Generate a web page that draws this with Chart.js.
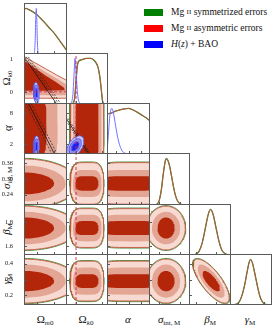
<!DOCTYPE html>
<html lang="en">
<head>
<meta charset="UTF-8">
<title>Mg II corner plot</title>
<script src="https://cdn.jsdelivr.net/npm/chart.js"></script>
<style>
  body { margin: 0; background: #fff; }
  #wrap { position: relative; width: 274px; height: 332px; overflow: hidden; background: #fff;
          font-family: 'Liberation Serif', 'DejaVu Serif', serif; color: #111; }
  #wrap canvas { position: absolute; }
  .xt, .yt { position: absolute; font-size: 11px; white-space: nowrap; line-height: 1; }
  .xt { transform: translateX(-50%); top: 314px; }
  .yt { left: 7px; transform: translate(-50%, -50%) rotate(-90deg); }
  .xt sub, .yt sub { font-size: 7px; vertical-align: -2px; }
  .lg { position: absolute; left: 144px; height: 8px; display: flex; align-items: center; font-size: 9.5px; white-space: nowrap; }
  .lg .box { width: 19px; height: 7px; margin-right: 8px; }
  .sc { font-size: 7px; }
</style>
</head>
<body>
<div id="wrap">
  <div class="lg" style="top:8px"><div class="box" style="background:#008000"></div>Mg&nbsp;<span class="sc">II</span>&nbsp;symmetrized errors</div>
  <div class="lg" style="top:24px"><div class="box" style="background:#ff0000"></div>Mg&nbsp;<span class="sc">II</span>&nbsp;asymmetric errors</div>
  <div class="lg" style="top:40px"><div class="box" style="background:#0000ff"></div><i>H</i>(<i>z</i>)&nbsp;+&nbsp;BAO</div>

  <div class="xt" style="left:45px">Ω<sub><i>m</i>0</sub></div>
  <div class="xt" style="left:86px">Ω<sub><i>k</i>0</sub></div>
  <div class="xt" style="left:128px"><i>α</i></div>
  <div class="xt" style="left:169px"><i>σ</i><sub>int,&thinsp;M</sub></div>
  <div class="xt" style="left:210px"><i>β</i><sub>M</sub></div>
  <div class="xt" style="left:250px"><i>γ</i><sub>M</sub></div>

  <div class="yt" style="top:78px">Ω<sub><i>k</i>0</sub></div>
  <div class="yt" style="top:128px"><i>α</i></div>
  <div class="yt" style="top:178px"><i>σ</i><sub>int,&thinsp;M</sub></div>
  <div class="yt" style="top:229px"><i>β</i><sub>M</sub></div>
  <div class="yt" style="top:279px"><i>γ</i><sub>M</sub></div>
</div>

<script>
// parameter order: Ω_m0, Ω_k0, α, σ_int,M, β_M, γ_M
const axisMin = [0, -0.38, 0, 0.2, 1.53, 0.14];
const axisMax = [1.0, 1.21, 10, 0.4, 1.95, 0.46];
const xTicks = [[0.3, 0.7], [0, 1], [2, 5, 8], [0.25, 0.35], [1.6, 1.8], [0.2, 0.4]];
const xTickLabels = [['0.3', '0.7'], ['0', '1'], ['2', '5', '8'], ['0.25', '0.35'], ['1.6', '1.8'], ['0.2', '0.4']];
const yTicks = [[], [0, 1], [2, 5, 8], [0.24, 0.30, 0.36], [1.6, 1.8], [0.2, 0.3, 0.4]];
const yTickLabels = [[], ['0', '1'], ['2', '5', '8'], ['0.24', '0.30', '0.36'], ['1.6', '1.8'], ['0.2', '0.3', '0.4']];

// 1D marginals, Mg II asymmetric errors [value, density]
const mgOmm1d = [[0, 0.98], [0.05, 1.0], [0.1, 0.98], [0.2, 0.93], [0.3, 0.86], [0.4, 0.77], [0.5, 0.67], [0.6, 0.56], [0.7, 0.46], [0.8, 0.33], [0.9, 0.2], [1.0, 0.07]];
const mgOmk1d = [[-0.14, 0], [-0.06, 0.1], [0.0, 0.5], [0.04, 0.8], [0.08, 0.92], [0.2, 0.97], [0.4, 1.0], [0.55, 1.0], [0.7, 0.95], [0.83, 0.81], [0.9, 0.6], [0.95, 0.35], [1.0, 0.08], [1.04, 0]];
const mgAlpha1d = [[0, 0.88], [1, 0.9], [2, 0.94], [3, 0.97], [4, 0.99], [5, 1.0], [6, 0.97], [7, 0.92], [8, 0.86], [9, 0.8], [10, 0.73]];
const mgSig1d = [[0.22, 0], [0.24, 0.02], [0.25, 0.1], [0.26, 0.32], [0.27, 0.68], [0.28, 0.96], [0.285, 1.0], [0.29, 0.98], [0.30, 0.85], [0.31, 0.62], [0.32, 0.38], [0.33, 0.19], [0.34, 0.08], [0.35, 0.03], [0.36, 0.01], [0.38, 0]];
const mgBeta1d = [[1.55, 0], [1.6, 0.02], [1.63, 0.08], [1.66, 0.25], [1.69, 0.55], [1.72, 0.87], [1.745, 1.0], [1.77, 0.9], [1.80, 0.6], [1.83, 0.3], [1.86, 0.1], [1.9, 0.02], [1.95, 0]];
const mgGam1d = [[0.16, 0], [0.19, 0.02], [0.21, 0.07], [0.23, 0.2], [0.25, 0.42], [0.27, 0.72], [0.285, 0.93], [0.297, 1.0], [0.31, 0.93], [0.33, 0.68], [0.35, 0.4], [0.37, 0.17], [0.39, 0.06], [0.41, 0.015], [0.44, 0]];
const mgMarg = [mgOmm1d, mgOmk1d, mgAlpha1d, mgSig1d, mgBeta1d, mgGam1d];

// 1D marginals, H(z) + BAO
const baoOmm1d = [[0.2, 0], [0.24, 0.03], [0.26, 0.3], [0.272, 0.75], [0.285, 1.0], [0.298, 0.75], [0.31, 0.3], [0.33, 0.03], [0.37, 0]];
const baoOmk1d = [[-0.25, 0], [-0.18, 0.03], [-0.12, 0.2], [-0.08, 0.6], [-0.04, 1.0], [0.0, 0.75], [0.04, 0.35], [0.08, 0.12], [0.13, 0.03], [0.2, 0]];
const baoAlpha1d = [[0, 0.05], [0.3, 0.4], [0.6, 0.78], [0.9, 0.97], [1.15, 1.0], [1.5, 0.9], [2.0, 0.62], [2.5, 0.36], [3.0, 0.18], [3.6, 0.06], [4.5, 0.01], [5.5, 0]];
const baoMarg = [baoOmm1d, baoOmk1d, baoAlpha1d];

// 2D Mg II contour extents, levels 68 / 95 / 99.7 %
const mgCenter = [0, 0, 0, 0.283, 1.752, 0.29];
const mgHalfEll = [[0.70, 0.97, 1.25], null, null, [0.042, 0.069, 0.094], [0.087, 0.134, 0.18], [0.064, 0.104, 0.138]];
const mgHalfBand = [[0.52, 0.78, 1.1], null, null, [0.028, 0.052, 0.08], [0.058, 0.11, 0.16], [0.043, 0.085, 0.125]];
const omkLo = [-0.03, -0.12, -0.22];
const omkHi = [0.85, 0.97, 1.05];
const alphaLo = [-2, -3, -4];
const alphaHi = [13, 15, 17];
const mgFlatLo = [null, omkLo, alphaLo, null, null, null];
const mgFlatHi = [null, omkHi, alphaHi, null, null, null];
const rhoBetaGam = -0.75;
// extra reach of the symmetrized-error outer contour
const symPad = [0.015, 0.012, 0.1, 0.0025, 0.005, 0.004];

// Ω_m0 – Ω_k0 panel, Mg II regions [Ω_m0, Ω_k0]
const mgOmmOmkLight = [[-0.05, 1.1], [0, 1.1], [0.25, 0.91], [0.5, 0.72], [0.75, 0.53], [1.0, 0.35], [1.05, 0.31], [1.05, -0.2], [0.5, -0.2], [0, -0.2], [-0.05, -0.2]];
const mgOmmOmkMid = [[-0.05, 1.04], [0, 1.04], [0.25, 0.83], [0.5, 0.62], [0.75, 0.42], [1.0, 0.22], [1.05, 0.19], [1.05, -0.11], [0, -0.11], [-0.05, -0.11]];
const mgOmmOmkDark = [[-0.05, 0.97], [0, 0.97], [0.25, 0.74], [0.5, 0.51], [0.75, 0.3], [0.93, 0.13], [0.95, 0.05], [0.5, 0.03], [0, 0.03], [-0.05, 0.03]];

// H(z) + BAO 2D contours
const baoCenter = [0.287, -0.03, 1.5];
const baoHalf = [[0.03, 0.05, 0.069], [0.145, 0.237, 0.327], [0.9, 1.5, 2.06]];
const baoRho = [[1, -0.2, 0.1], [-0.2, 1, 0.5], [0.1, 0.5, 1]];

// hatched boundary lines
const edgeOmmOmk = [[[0, 1.09], [0.76, -0.38]], [[0.05, 1.09], [0.81, -0.38]], [[0.1, 1.09], [0.86, -0.38]]];
const edgeOmmAlpha = [[[0.1, 10], [0.71, 0]], [[0.04, 10], [0.65, 0]], [[0.16, 10], [0.77, 0]]];
const edgeOmkAlpha = [[[-0.38, 7.08], [0.49, 0]], [[-0.38, 6.6], [0.43, 0]], [[-0.38, 7.6], [0.55, 0]]];

const colX = [24, 66, 107, 149, 189, 230, 271];
const rowY = [3, 53, 103, 153, 204, 254, 304];

const mgFill = ['#b3260a', '#e3a594', '#f7dbd2'];
const mgLine = '#c2553c';
const symLine = '#2c8a2c';
const baoFill = ['#1e1ef0', '#8d8df0', '#cacaf5'];
const baoLine = '#5a5aef';

Chart.defaults.font.family = "'Liberation Serif', 'DejaVu Serif', serif";

function pts(arr) { return arr.map(p => ({ x: p[0], y: p[1] })); }

function shape(ex, ey, nx, ny, rho) {
  const cx = (ex[0] + ex[1]) / 2, ax = (ex[1] - ex[0]) / 2;
  const cy = (ey[0] + ey[1]) / 2, ay = (ey[1] - ey[0]) / 2;
  const out = [];
  for (let i = 0; i <= 96; i++) {
    const t = Math.PI * 2 * i / 96, c = Math.cos(t), s = Math.sin(t);
    let x, y;
    if (rho) {
      x = cx + ax * c;
      y = cy + ay * (rho * c + Math.sqrt(1 - rho * rho) * s);
    } else {
      x = cx + ax * Math.sign(c) * Math.pow(Math.abs(c), 2 / nx);
      y = cy + ay * Math.sign(s) * Math.pow(Math.abs(s), 2 / ny);
    }
    out.push({ x, y });
  }
  return out;
}

function mgExtent(p, q, k, pad) {
  if (mgFlatLo[p]) return [mgFlatLo[p][k] - pad, mgFlatHi[p][k] + pad];
  const h = (mgFlatLo[q] ? mgHalfBand[p] : mgHalfEll[p])[k] + pad;
  return [mgCenter[p] - h, mgCenter[p] + h];
}

function area(data, fillCol, lineCol, lw) {
  return { data, fill: 'shape', backgroundColor: fillCol, borderColor: lineCol || 'rgba(0,0,0,0)',
           borderWidth: lw || 0, pointRadius: 0, tension: 0, clip: 0 };
}
function curve(data, col, lw, dash, smooth) {
  return { data, fill: false, borderColor: col, borderWidth: lw, borderDash: dash || [], pointRadius: 0,
           tension: 0, cubicInterpolationMode: smooth ? 'monotone' : 'default', clip: 0 };
}

function framePlugin(xt, yt) {
  return {
    id: 'frame',
    afterDraw(chart) {
      const { ctx, chartArea: a, scales } = chart;
      ctx.save();
      ctx.strokeStyle = '#5a5a5a';
      ctx.lineWidth = 1;
      ctx.strokeRect(a.left + 0.5, a.top + 0.5, a.right - a.left - 1, a.bottom - a.top - 1);
      ctx.beginPath();
      xt.forEach(v => {
        const px = Math.round(scales.x.getPixelForValue(v)) + 0.5;
        ctx.moveTo(px, a.bottom); ctx.lineTo(px, a.bottom - 3);
      });
      yt.forEach(v => {
        const py = Math.round(scales.y.getPixelForValue(v)) + 0.5;
        ctx.moveTo(a.left, py); ctx.lineTo(a.left + 3, py);
      });
      ctx.stroke();
      ctx.restore();
    }
  };
}

function panelDatasets(r, c) {
  const ds = [];
  if (r === c) {
    ds.push(curve(pts(mgMarg[c]), symLine, 1.3, null, true));
    ds.push(curve(pts(mgMarg[c]), mgLine, 1, null, true));
    if (c < 3) ds.push(curve(pts(baoMarg[c]), '#7070ff', 1, null, true));
    if (c === 1) ds.push(curve([{ x: 0, y: 0 }, { x: 0, y: 1.12 }], '#d42a4a', 0.9, [3, 2]));
    return ds;
  }
  // Mg II contours
  if (r === 1 && c === 0) {
    ds.push(area(pts(mgOmmOmkLight), mgFill[2], mgLine, 0.9));
    ds.push(area(pts(mgOmmOmkMid), mgFill[1]));
    ds.push(area(pts(mgOmmOmkDark), mgFill[0]));
  } else {
    const nx = mgFlatLo[c] ? 5 : 2, ny = mgFlatLo[r] ? 5 : 2;
    const rho = (c === 4 && r === 5) ? rhoBetaGam : 0;
    ds.push(curve(shape(mgExtent(c, r, 2, symPad[c]), mgExtent(r, c, 2, symPad[r]), nx, ny, rho), symLine, 0.9));
    ds.push(area(shape(mgExtent(c, r, 2, 0), mgExtent(r, c, 2, 0), nx, ny, rho), mgFill[2], mgLine, 0.9));
    ds.push(area(shape(mgExtent(c, r, 1, 0), mgExtent(r, c, 1, 0), nx, ny, rho), mgFill[1]));
    ds.push(area(shape(mgExtent(c, r, 0, 0), mgExtent(r, c, 0, 0), nx, ny, rho), mgFill[0]));
  }
  // hatched boundary
  let edge = null;
  if (r === 1 && c === 0) edge = edgeOmmOmk;
  if (r === 2 && c === 0) edge = edgeOmmAlpha;
  if (r === 2 && c === 1) edge = edgeOmkAlpha;
  if (edge) {
    ds.push(curve(pts(edge[0]), '#111', 0.8));
    ds.push(curve(pts(edge[1]), '#222', 0.7, [2, 1.5]));
    ds.push(curve(pts(edge[2]), '#222', 0.7, [2, 1.5]));
  }
  // H(z) + BAO contours
  if (r < 3) {
    for (let k = 2; k >= 0; k--) {
      const ex = [baoCenter[c] - baoHalf[c][k], baoCenter[c] + baoHalf[c][k]];
      const ey = [baoCenter[r] - baoHalf[r][k], baoCenter[r] + baoHalf[r][k]];
      ds.push(area(shape(ex, ey, 2, 2, baoRho[c][r]), baoFill[k], baoLine, 0.7));
    }
  }
  // Ω_k0 = 0
  if (c === 1) ds.push(curve([{ x: 0, y: axisMin[r] }, { x: 0, y: axisMax[r] }], '#d42a4a', 0.9, [3, 2]));
  if (r === 1) ds.push(curve([{ x: axisMin[c], y: 0 }, { x: axisMax[c], y: 0 }], '#d42a4a', 0.9, [3, 2]));
  return ds;
}

function makePanel(r, c) {
  const showY = c === 0 && r > 0;
  const showX = r === 5;
  const left = showY ? 0 : colX[c];
  const top = rowY[r];
  const w = colX[c + 1] - left + 1;
  const h = rowY[r + 1] - top + 1 + (showX ? 12 : 0);
  const cv = document.createElement('canvas');
  cv.width = w; cv.height = h;
  cv.style.left = left + 'px'; cv.style.top = top + 'px';
  document.getElementById('wrap').appendChild(cv);

  const ds = panelDatasets(r, c);
  ds.forEach((d, i) => { d.order = ds.length - i; });

  const tickFont = { size: 6.5, family: "'Liberation Serif', 'DejaVu Serif', serif" };
  new Chart(cv, {
    type: 'line',
    data: { datasets: ds },
    options: {
      responsive: false, animation: false, devicePixelRatio: 1, events: [],
      layout: { padding: 0 },
      plugins: { legend: { display: false }, tooltip: { enabled: false } },
      scales: {
        x: {
          type: 'linear', min: axisMin[c], max: axisMax[c], display: showX,
          grid: { display: false }, border: { display: false },
          ticks: { font: tickFont, color: '#222', padding: 2, maxRotation: 0, autoSkip: false,
                   callback: (v, i) => xTickLabels[c][i] },
          afterBuildTicks: s => { s.ticks = xTicks[c].map(v => ({ value: v })); },
          afterFit: s => { s.height = showX ? 12 : 0; s.paddingLeft = 0; s.paddingRight = 0; }
        },
        y: {
          type: 'linear', min: r === c ? 0 : axisMin[r], max: r === c ? 1.12 : axisMax[r], display: showY,
          grid: { display: false }, border: { display: false },
          ticks: { font: tickFont, color: '#222', padding: 3, autoSkip: false,
                   callback: (v, i) => yTickLabels[r][i] },
          afterBuildTicks: s => { s.ticks = yTicks[r].map(v => ({ value: v })); },
          afterFit: s => { s.width = showY ? 24 : 0; s.paddingTop = 0; s.paddingBottom = 0; }
        }
      }
    },
    plugins: [framePlugin(xTicks[c], r === c ? [] : yTicks[r])]
  });
}

for (let r = 0; r < 6; r++) {
  for (let c = 0; c <= r; c++) makePanel(r, c);
}
</script>
</body>
</html>
